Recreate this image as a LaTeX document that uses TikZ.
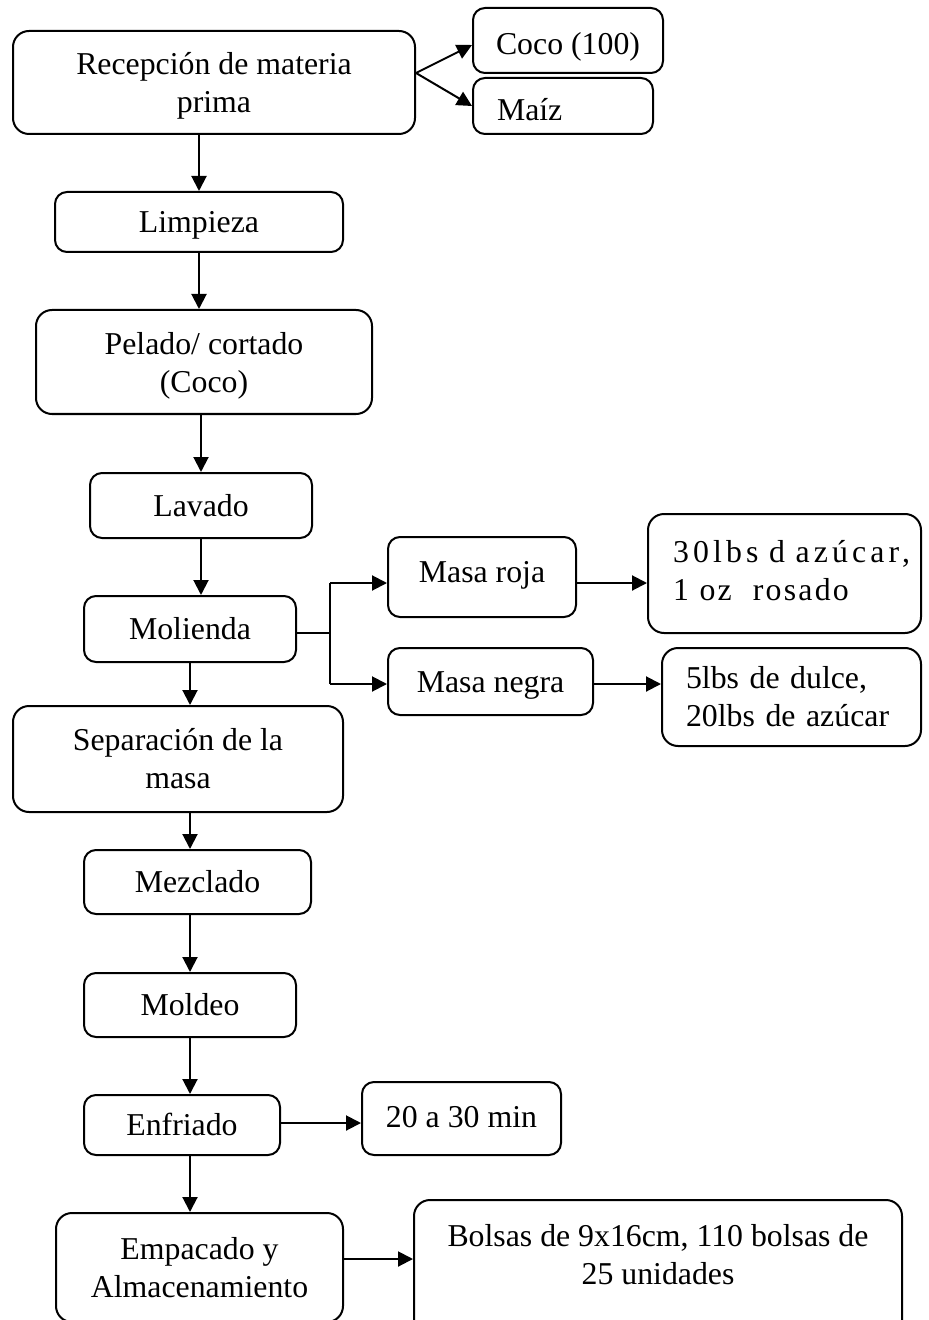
\documentclass[tikz,border=0pt]{standalone}
\usepackage{fontspec}
\setmainfont{Liberation Serif}
\usetikzlibrary{arrows.meta}
\begin{document}
\begin{tikzpicture}[x=0.5pt,y=-0.5pt,
  box/.style={draw, line width=1pt, rounded corners=6pt, inner sep=0pt, align=center, font=\fontsize{15.9}{19}\selectfont},
  bigbox/.style={box, rounded corners=8pt},
  one/.style={text height=11.5pt, text depth=1pt},
  txt/.style={inner sep=0pt, align=center, font=\fontsize{15.9}{19}\selectfont},
  arr/.style={line width=1pt, -{Triangle[length=7.5pt,width=7.5pt]}},
  ln/.style={line width=1pt}]
\useasboundingbox (0,0) rectangle (928,1320);
\clip (0,0) rectangle (928,1320);

\node[bigbox, text depth=0pt, minimum width=201pt, minimum height=51.5pt] (rec) at (214,82.5) {Recepción de materia\\prima};
\node[box, text height=15pt, text depth=1pt, minimum width=95pt, minimum height=32.5pt] (coco) at (568,40.5) {Coco (100)};
\node[box, text height=15pt, text depth=0.4pt, align=left, text width=66pt, inner xsep=12pt, minimum height=28pt] (maiz) at (563,106) {Maíz};
\node[box, text height=12pt, text depth=1pt, minimum width=144pt, minimum height=30pt] (limp) at (199,222) {Limpieza};
\node[bigbox, text depth=0pt, minimum width=168pt, minimum height=52pt] (pel) at (204,362) {Pelado/ cortado\\(Coco)};
\node[box, one, minimum width=111pt, minimum height=32.5pt] (lav) at (201,505.5) {Lavado};
\node[box, one, minimum width=106pt, minimum height=33pt] (mol) at (190,629) {Molienda};
\node[box, text height=9pt, text depth=4pt, minimum width=94pt, minimum height=40pt] (roja) at (482,577) {Masa roja};
\node[box, one, minimum width=102.5pt, minimum height=33.5pt] (negra) at (490.5,681.5) {Masa negra};
\node[bigbox, text depth=22pt, align=left, text width=111.5pt, inner xsep=12.5pt, minimum height=59.5pt] (lbsa) at (784.5,573.5)
  {\mbox{\addfontfeature{LetterSpace=13}30lbs d azúcar,}\\\mbox{\addfontfeature{LetterSpace=7}1 oz\ \ rosado}};
\node[bigbox, align=left, text width=105.5pt, inner xsep=12pt, minimum height=49pt] (lbsb) at (791.5,697)
  {5lbs de dulce,\\20lbs de azúcar};
\node[bigbox, minimum width=165pt, minimum height=53pt] (sep) at (178,759) {Separación de la\\masa};
\node[box, one, minimum width=113.5pt, minimum height=32pt] (mez) at (197.5,882) {Mezclado};
\node[box, one, minimum width=106pt, minimum height=32pt] (mold) at (190,1005) {Moldeo};
\node[box, one, minimum width=98pt, minimum height=30pt] (enf) at (182,1125) {Enfriado};
\node[box, text height=10pt, text depth=1.2pt, minimum width=99.5pt, minimum height=36.5pt] (min) at (461.5,1118.5) {20 a 30 min};
\node[bigbox, minimum width=143.5pt, minimum height=54.5pt] (emp) at (199.5,1267.5) {Empacado y\\Almacenamiento};
\node[bigbox, minimum width=244pt, minimum height=70pt] (bol) at (658,1270) {};
\node[txt] (boltxt) at (658,1255) {Bolsas de 9x16cm, 110 bolsas de\\25 unidades};

% top branch
\draw[arr] ([yshift=4.75pt]rec.east) -- ([yshift=-2.25pt]coco.west);
\draw[arr] ([yshift=4.75pt]rec.east) -- (maiz.west);

% main column
\draw[arr] (limp.north |- rec.south) -- (limp.north);
\draw[arr] (limp.south) -- (limp.south |- pel.north);
\draw[arr] (lav.north |- pel.south) -- (lav.north);
\draw[arr] (lav.south) -- (lav.south |- mol.north);
\draw[arr] (mol.south) -- (mol.south |- sep.north);
\draw[arr] (mol.south |- sep.south) -- (mol.south |- mez.north);
\draw[arr] (mold.north |- mez.south) -- (mold.north);
\draw[arr] (mold.south) -- (mold.south |- enf.north);
\draw[arr] (mold.south |- enf.south) -- (mold.south |- emp.north);

% molienda branch
\coordinate (j) at (330,633);
\coordinate (jr) at (330,583);
\coordinate (jn) at (330,684);
\draw[ln] (mol.east |- j) -- (j);
\draw[ln] (jr) -- (jn);
\draw[arr] (jr) -- (jr -| roja.west);
\draw[arr] (jn) -- (jn -| negra.west);
\draw[arr] (roja.east |- jr) -- (lbsa.west |- jr);
\draw[arr] (negra.east |- jn) -- (lbsb.west |- jn);

% side arrows
\coordinate (e) at (300,1123);
\draw[arr] (enf.east |- e) -- (min.west |- e);
\coordinate (b) at (380,1259);
\draw[arr] (emp.east |- b) -- (bol.west |- b);
\end{tikzpicture}
\end{document}
